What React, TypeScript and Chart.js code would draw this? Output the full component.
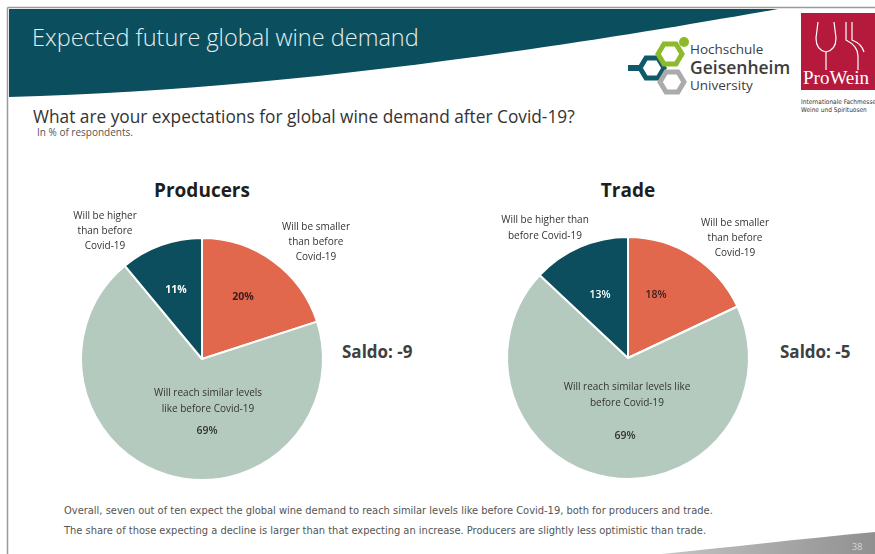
import React, { useEffect, useRef } from "react";
import { Chart, registerables } from "chart.js";

Chart.register(...registerables);

const categories = [
  "Will be smaller than before Covid-19",
  "Will reach similar levels like before Covid-19",
  "Will be higher than before Covid-19",
];
const producersValues = [20, 69, 11];
const tradeValues = [18, 69, 13];
const groupTitles = ["Producers", "Trade"];
const saldoValues = [-9, -5];
const sliceColors = ["#E1674D", "#B5CABE", "#0C4E5D"];

const TEAL = "#0B4E5D";

type LabelProps = {
  x: number;
  y: number;
  lines: string[];
  size: number;
  color?: string;
  weight?: number | string;
  lh?: number;
  align?: "center" | "left";
  family?: string;
};

function Label({ x, y, lines, size, color = "#333", weight = 400, lh, align = "center", family }: LabelProps) {
  const lineH = lh ?? Math.round(size * 1.4);
  return (
    <div
      style={{
        position: "absolute",
        left: x,
        top: y,
        transform: align === "center" ? "translateX(-50%)" : undefined,
        fontFamily: family ?? "'Open Sans', sans-serif",
        fontSize: size,
        fontWeight: weight as any,
        color,
        lineHeight: lineH + "px",
        textAlign: align,
        whiteSpace: "nowrap",
      }}
    >
      {lines.map((l, i) => (
        <div key={i}>{l}</div>
      ))}
    </div>
  );
}

function Pie({ values, left, top }: { values: number[]; left: number; top: number }) {
  const ref = useRef<HTMLCanvasElement | null>(null);
  useEffect(() => {
    if (!ref.current) return;
    const chart = new Chart(ref.current, {
      type: "pie",
      data: {
        labels: categories,
        datasets: [
          {
            data: values,
            backgroundColor: sliceColors,
            borderColor: "#ffffff",
            borderWidth: 2,
            hoverOffset: 0,
          } as any,
        ],
      },
      options: {
        responsive: false,
        animation: false,
        radius: 121,
        layout: { padding: 0 },
        plugins: { legend: { display: false }, tooltip: { enabled: false } },
      } as any,
    });
    return () => chart.destroy();
  }, [values]);
  return (
    <canvas
      ref={ref}
      width={260}
      height={260}
      style={{ position: "absolute", left, top, width: 260, height: 260 }}
    />
  );
}

function pct(v: number) {
  return v + "%";
}

export default function App() {
  useEffect(() => {
    document.body.style.margin = "0";
  }, []);
  const footFont = "'Liberation Sans Narrow', 'DejaVu Sans Condensed', sans-serif";
  return (
    <div style={{ position: "relative", width: 875, height: 554, overflow: "hidden", background: "#fff" }}>
      <svg width={875} height={554} style={{ position: "absolute", left: 0, top: 0 }}>
        <defs>
          <linearGradient id="wedge" x1="0" y1="0" x2="1" y2="0">
            <stop offset="0" stopColor="#c4c4c4" />
            <stop offset="1" stopColor="#909090" />
          </linearGradient>
        </defs>
        {/* slide frame */}
        <line x1={7.5} y1={7.5} x2={875} y2={7.5} stroke="#9a9a9a" strokeWidth={1.5} />
        <line x1={7.5} y1={7.5} x2={7.5} y2={554} stroke="#9a9a9a" strokeWidth={1.5} />
        {/* header band */}
        <path d="M9 9 H778 C 600 40 300 90 9 97 Z" fill={TEAL} />
        {/* bottom-right wedge */}
        <path d="M662 554 C 740 546 810 538 875 532 V554 Z" fill="url(#wedge)" />
        {/* Geisenheim logo */}
        <polygon points="640,68 646,58 658,58 664,68 658,78 646,78" fill="none" stroke="#0E5A6A" strokeWidth={5} />
        <line x1={628} y1={68} x2={640} y2={68} stroke="#0E5A6A" strokeWidth={6} />
        <polygon points="660,82 666,72 678,72 684,82 678,92 666,92" fill="none" stroke="#ABABAB" strokeWidth={5} />
        <polygon points="658,54 664,44 676,44 682,54 676,64 664,64" fill="none" stroke="#8DBA2B" strokeWidth={5} />
        <circle cx={684} cy={42} r={5} fill="#8DBA2B" />
        {/* ProWein logo */}
        <rect x={801} y={13} width={80} height={77} fill="#B51A3C" />
        <path d="M818 22 L816 38 Q816 50 826 52 L826 70" fill="none" stroke="#fff" strokeWidth={1.2} />
        <path d="M834 22 L836 38 Q836 50 826 52" fill="none" stroke="#fff" strokeWidth={1.2} />
        <path d="M846 22 L846 40 Q858 46 858 56 L858 70" fill="none" stroke="#fff" strokeWidth={1.2} />
        <path d="M852 22 L852 40 Q862 44 864 52" fill="none" stroke="#fff" strokeWidth={1.2} />
      </svg>

      <Label x={32} y={21} lines={["Expected future global wine demand"]} size={23.5} weight={300} color="#E6EEF0" align="left" lh={32} />
      <Label x={690} y={41} lines={["Hochschule"]} size={13.5} color="#3d3d3d" align="left" lh={17} />
      <Label x={690} y={57} lines={["Geisenheim"]} size={17.5} weight={600} color="#3d3d3d" align="left" lh={21} />
      <Label x={690} y={77} lines={["University"]} size={13.5} color="#3d3d3d" align="left" lh={17} />
      <Label x={803} y={66} lines={["ProWein"]} size={19} color="#fff" align="left" lh={24} family="'Liberation Serif', serif" />
      <Label x={801} y={98} lines={["Internationale Fachmesse", "Weine und Spirituosen"]} size={6.5} color="#333" align="left" lh={8} family={footFont} />

      <Label x={33} y={104} lines={["What are your expectations for global wine demand after Covid-19?"]} size={17.3} color="#333" align="left" lh={26} />
      <Label x={37} y={125} lines={["In % of respondents."]} size={10} color="#555" align="left" lh={14} />

      <Pie values={producersValues} left={72} top={229} />
      <Pie values={tradeValues} left={498} top={228} />

      <Label x={202} y={176} lines={[groupTitles[0]]} size={19} weight={700} color="#1e1e1e" lh={28} />
      <Label x={628} y={176} lines={[groupTitles[1]]} size={19} weight={700} color="#1e1e1e" lh={28} />

      <Label x={105} y={208} lines={["Will be higher", "than before", "Covid-19"]} size={10} color="#333" lh={15} />
      <Label x={316} y={219} lines={["Will be smaller", "than before", "Covid-19"]} size={10} color="#333" lh={15} />
      <Label x={176} y={281} lines={[pct(producersValues[2])]} size={10.5} weight={700} color="#fff" lh={16} />
      <Label x={243} y={288} lines={[pct(producersValues[0])]} size={10.5} weight={700} color="#3a1d1a" lh={16} />
      <Label x={208} y={384} lines={["Will reach similar levels", "like before Covid-19"]} size={10} color="#333" lh={16} />
      <Label x={207} y={422} lines={[pct(producersValues[1])]} size={10.5} weight={600} color="#333" lh={16} />

      <Label x={545} y={211} lines={["Will be higher than", "before Covid-19"]} size={10} color="#333" lh={16} />
      <Label x={735} y={215} lines={["Will be smaller", "than before", "Covid-19"]} size={10} color="#333" lh={15} />
      <Label x={600} y={286} lines={[pct(tradeValues[2])]} size={10.5} weight={600} color="#fff" lh={16} />
      <Label x={656} y={286} lines={[pct(tradeValues[0])]} size={10.5} weight={600} color="#3a1d1a" lh={16} />
      <Label x={627} y={378} lines={["Will reach similar levels like", "before Covid-19"]} size={10} color="#333" lh={16} />
      <Label x={625} y={427} lines={[pct(tradeValues[1])]} size={10.5} weight={600} color="#333" lh={16} />

      <Label x={342} y={340} lines={["Saldo: " + saldoValues[0]]} size={17} weight={700} color="#404040" align="left" lh={24} />
      <Label x={780} y={340} lines={["Saldo: " + saldoValues[1]]} size={17} weight={700} color="#404040" align="left" lh={24} />

      <Label
        x={64}
        y={501}
        lines={[
          "Overall, seven out of ten expect the global wine demand to reach similar levels like before Covid-19, both for producers and trade.",
          "The share of those expecting a decline is larger than that expecting an increase. Producers are slightly less optimistic than trade.",
        ]}
        size={11}
        color="#555"
        align="left"
        lh={20}
        family={footFont}
      />
      <Label x={852} y={541} lines={["38"]} size={9} color="#d8d8d8" align="left" lh={12} />
    </div>
  );
}
